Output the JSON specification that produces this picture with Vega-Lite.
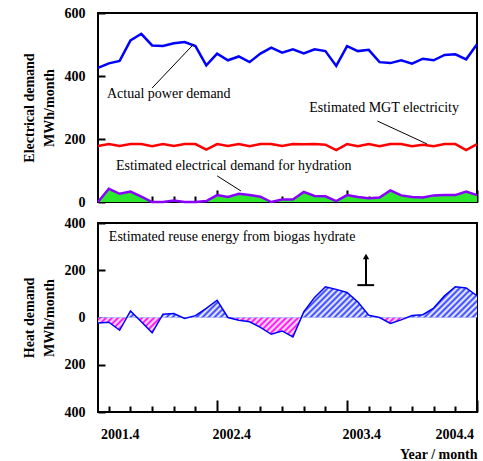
{
  "$schema": "https://vega.github.io/schema/vega-lite/v6.json",
  "background": "white",
  "padding": {"left": 21, "top": 5, "right": 5, "bottom": 3},
  "spacing": 5,
  "config": {
    "view": {"stroke": "black", "strokeWidth": 2},
    "font": "Liberation Serif",
    "axis": {
      "labelFont": "Liberation Serif", "labelFontWeight": "bold", "labelFontSize": 14, "labelColor": "black",
      "titleFont": "Liberation Serif", "titleFontWeight": "bold", "titleFontSize": 14, "titleColor": "black",
      "ticks": false, "domain": false, "grid": true, "gridColor": "black", "gridWidth": 2, "gridOpacity": 1,
      "zindex": 1,
      "labelOverlap": false, "labelFlush": false, "labelBound": false
    },
    "text": {"font": "Liberation Serif", "fontSize": 14, "color": "black"}
  },
  "datasets": {
    "main": [
      {"i": 0, "actual": 426, "mgt": 178, "hydr": 0, "heat": -23},
      {"i": 1, "actual": 440, "mgt": 184, "hydr": 42, "heat": -20},
      {"i": 2, "actual": 448, "mgt": 178, "hydr": 26, "heat": -54},
      {"i": 3, "actual": 513, "mgt": 184, "hydr": 33, "heat": 28},
      {"i": 4, "actual": 534, "mgt": 184, "hydr": 17, "heat": -18},
      {"i": 5, "actual": 497, "mgt": 177, "hydr": 0, "heat": -65},
      {"i": 6, "actual": 495, "mgt": 184, "hydr": 0, "heat": 14},
      {"i": 7, "actual": 504, "mgt": 178, "hydr": 5, "heat": 17},
      {"i": 8, "actual": 508, "mgt": 184, "hydr": 0, "heat": -4},
      {"i": 9, "actual": 495, "mgt": 184, "hydr": 0, "heat": 8},
      {"i": 10, "actual": 434, "mgt": 166, "hydr": 3, "heat": 39},
      {"i": 11, "actual": 471, "mgt": 184, "hydr": 22, "heat": 73},
      {"i": 12, "actual": 450, "mgt": 178, "hydr": 16, "heat": 0},
      {"i": 13, "actual": 462, "mgt": 184, "hydr": 26, "heat": -12},
      {"i": 14, "actual": 444, "mgt": 177, "hydr": 22, "heat": -18},
      {"i": 15, "actual": 471, "mgt": 184, "hydr": 17, "heat": -42},
      {"i": 16, "actual": 490, "mgt": 184, "hydr": 0, "heat": -71},
      {"i": 17, "actual": 474, "mgt": 178, "hydr": 8, "heat": -57},
      {"i": 18, "actual": 485, "mgt": 184, "hydr": 8, "heat": -82},
      {"i": 19, "actual": 472, "mgt": 183, "hydr": 32, "heat": 24},
      {"i": 20, "actual": 485, "mgt": 184, "hydr": 19, "heat": 85},
      {"i": 21, "actual": 479, "mgt": 182, "hydr": 18, "heat": 130},
      {"i": 22, "actual": 432, "mgt": 165, "hydr": 3, "heat": 119},
      {"i": 23, "actual": 495, "mgt": 184, "hydr": 22, "heat": 106},
      {"i": 24, "actual": 479, "mgt": 177, "hydr": 16, "heat": 66},
      {"i": 25, "actual": 483, "mgt": 184, "hydr": 12, "heat": 10},
      {"i": 26, "actual": 444, "mgt": 177, "hydr": 14, "heat": 0},
      {"i": 27, "actual": 441, "mgt": 184, "hydr": 37, "heat": -25},
      {"i": 28, "actual": 450, "mgt": 184, "hydr": 21, "heat": -10},
      {"i": 29, "actual": 439, "mgt": 177, "hydr": 16, "heat": 8},
      {"i": 30, "actual": 455, "mgt": 182, "hydr": 14, "heat": 12},
      {"i": 31, "actual": 450, "mgt": 177, "hydr": 21, "heat": 40},
      {"i": 32, "actual": 467, "mgt": 184, "hydr": 22, "heat": 92},
      {"i": 33, "actual": 469, "mgt": 184, "hydr": 22, "heat": 130},
      {"i": 34, "actual": 453, "mgt": 165, "hydr": 33, "heat": 125},
      {"i": 35, "actual": 501, "mgt": 184, "hydr": 22, "heat": 92}
    ],
    "textTop": [
      {"x": 0.83, "y": 343, "label": "Actual power demand"},
      {"x": 19.5, "y": 298, "label": "Estimated MGT electricity"},
      {"x": 1.66, "y": 114, "label": "Estimated electrical demand for hydration"}
    ],
    "ruleTop": [
      {"x1": 5.0, "y1": 362, "x2": 8.86, "y2": 502},
      {"x1": 25.8, "y1": 257, "x2": 30.4, "y2": 184},
      {"x1": 11.0, "y1": 83, "x2": 13.2, "y2": 35}
    ],
    "textBot": [
      {"x": 1.0, "y": 340, "label": "Estimated reuse energy from biogas hydrate"}
    ],
    "ruleBot": [
      {"x1": 24.75, "y1": 137, "x2": 24.75, "y2": 262},
      {"x1": 23.95, "y1": 137, "x2": 25.5, "y2": 137}
    ],
    "arrowBot": [
      {"x": 24.75, "y": 258}
    ]
  },
  "vconcat": [
    {
      "width": 379,
      "height": 189,
      "data": {"name": "main"},
      "encoding": {
        "x": {
          "field": "i", "type": "quantitative",
          "scale": {"domain": [0, 35], "nice": false, "zero": false},
          "axis": {
            "title": null, "labels": false,
            "values": [1, 3, 5, 7, 9, 11, 13, 15, 17, 19, 21, 23, 25, 27, 29, 31, 33, 35],
            "gridDash": {"condition": {"test": "datum.value == 11 || datum.value == 23 || datum.value == 35", "value": [0, 177, 12, 2000]}, "value": [0, 183, 6, 2000]}
          }
        }
      },
      "layer": [
        {
          "mark": {"type": "area", "fill": "#2ee82e"},
          "encoding": {
            "y": {
              "field": "hydr", "type": "quantitative",
              "scale": {"domain": [0, 600], "nice": false},
              "axis": {
                "title": ["Electrical demand", "MWh/month"],
                "titlePadding": 8,
                "titleLineHeight": 20,
                "values": [0, 50, 100, 150, 200, 250, 300, 350, 400, 450, 500, 550, 600],
                "labelExpr": "datum.value % 100 == 0 ? format(datum.value, 'd') : ''",
                "labelOverlap": false,
                "gridDash": [7, 2000],
                "labelPadding": 13
              }
            },
            "y2": {"datum": 0}
          }
        },
        {
          "mark": {"type": "line", "stroke": "#8a00ff", "strokeWidth": 2.5},
          "encoding": {"y": {"field": "hydr", "type": "quantitative"}}
        },
        {
          "mark": {"type": "line", "stroke": "#ff0000", "strokeWidth": 2.5},
          "encoding": {"y": {"field": "mgt", "type": "quantitative"}}
        },
        {
          "mark": {"type": "line", "stroke": "#0000ff", "strokeWidth": 2.5},
          "encoding": {"y": {"field": "actual", "type": "quantitative"}}
        },
        {
          "data": {"name": "ruleTop"},
          "mark": {"type": "rule", "stroke": "black", "strokeWidth": 1},
          "encoding": {
            "x": {"field": "x1", "type": "quantitative"},
            "y": {"field": "y1", "type": "quantitative"},
            "x2": {"field": "x2"},
            "y2": {"field": "y2"}
          }
        },
        {
          "data": {"name": "textTop"},
          "mark": {"type": "text", "align": "left", "baseline": "middle"},
          "encoding": {
            "x": {"field": "x", "type": "quantitative"},
            "y": {"field": "y", "type": "quantitative"},
            "text": {"field": "label"}
          }
        }
      ]
    },
    {
      "width": 379,
      "height": 189,
      "data": {"name": "main"},
      "encoding": {
        "x": {
          "field": "i", "type": "quantitative",
          "scale": {"domain": [0, 35], "nice": false, "zero": false},
          "axis": {
            "title": "Year / month", "titleAnchor": "end", "titlePadding": 6,
            "values": [1, 2, 3, 5, 7, 9, 11, 12.3, 13, 15, 17, 19, 21, 23, 24.3, 25, 27, 29, 31, 32.9, 33, 35],
            "labelExpr": "datum.value == 2 ? '2001.4' : datum.value == 12.3 ? '2002.4' : datum.value == 24.3 ? '2003.4' : datum.value == 32.9 ? '2004.4' : ''",
            "labelPadding": 15,
            "gridDash": {"condition": [
              {"test": "datum.value == 11 || datum.value == 23 || datum.value == 35", "value": [0, 177, 12, 2000]},
              {"test": "datum.value % 2 == 1", "value": [0, 183, 6, 2000]}
            ], "value": [0, 2000]},
            "gridOpacity": {"condition": {"test": "datum.value % 1 != 0 || datum.value == 2", "value": 0}, "value": 1}
          }
        }
      },
      "layer": [
        {
          "mark": {
            "type": "area",
            "fill": {"gradient": "linear", "x1": 0, "y1": 0, "x2": 0, "y2": 1,
              "stops": [
                {"offset": 0, "color": "#2a3cff"},
                {"offset": 0.6132, "color": "#2a3cff"},
                {"offset": 0.6132, "color": "#ff00ee"},
                {"offset": 1, "color": "#ff00ee"}
              ]}
          },
          "encoding": {
            "y": {
              "field": "heat", "type": "quantitative",
              "scale": {"domain": [-400, 400], "nice": false},
              "axis": {
                "title": ["Heat demand", "MWh/month"],
                "titlePadding": 8,
                "titleLineHeight": 20,
                "values": [-400, -300, -200, -100, 0, 100, 200, 300, 400],
                "labelExpr": "datum.value % 200 == 0 ? format(abs(datum.value), 'd') : ''",
                "labelOverlap": false,
                "gridDash": [7, 2000],
                "labelPadding": 13
              }
            },
            "y2": {"datum": 0}
          }
        },
        {
          "mark": {
            "type": "area",
            "fill": {"gradient": "linear", "x1": 0, "y1": 0, "x2": 1.556, "y2": 0.2054,
              "stops": [
                {"offset":0,"color":"#fff"},{"offset":0.005,"color":"#fff0"},
                {"offset":0.01,"color":"#fff"},{"offset":0.015,"color":"#fff0"},
                {"offset":0.02,"color":"#fff"},{"offset":0.025,"color":"#fff0"},
                {"offset":0.03,"color":"#fff"},{"offset":0.035,"color":"#fff0"},
                {"offset":0.04,"color":"#fff"},{"offset":0.045,"color":"#fff0"},
                {"offset":0.05,"color":"#fff"},{"offset":0.055,"color":"#fff0"},
                {"offset":0.06,"color":"#fff"},{"offset":0.065,"color":"#fff0"},
                {"offset":0.07,"color":"#fff"},{"offset":0.075,"color":"#fff0"},
                {"offset":0.08,"color":"#fff"},{"offset":0.085,"color":"#fff0"},
                {"offset":0.09,"color":"#fff"},{"offset":0.095,"color":"#fff0"},
                {"offset":0.1,"color":"#fff"},{"offset":0.105,"color":"#fff0"},
                {"offset":0.11,"color":"#fff"},{"offset":0.115,"color":"#fff0"},
                {"offset":0.12,"color":"#fff"},{"offset":0.125,"color":"#fff0"},
                {"offset":0.13,"color":"#fff"},{"offset":0.135,"color":"#fff0"},
                {"offset":0.14,"color":"#fff"},{"offset":0.145,"color":"#fff0"},
                {"offset":0.15,"color":"#fff"},{"offset":0.155,"color":"#fff0"},
                {"offset":0.16,"color":"#fff"},{"offset":0.165,"color":"#fff0"},
                {"offset":0.17,"color":"#fff"},{"offset":0.175,"color":"#fff0"},
                {"offset":0.18,"color":"#fff"},{"offset":0.185,"color":"#fff0"},
                {"offset":0.19,"color":"#fff"},{"offset":0.195,"color":"#fff0"},
                {"offset":0.2,"color":"#fff"},{"offset":0.205,"color":"#fff0"},
                {"offset":0.21,"color":"#fff"},{"offset":0.215,"color":"#fff0"},
                {"offset":0.22,"color":"#fff"},{"offset":0.225,"color":"#fff0"},
                {"offset":0.23,"color":"#fff"},{"offset":0.235,"color":"#fff0"},
                {"offset":0.24,"color":"#fff"},{"offset":0.245,"color":"#fff0"},
                {"offset":0.25,"color":"#fff"},{"offset":0.255,"color":"#fff0"},
                {"offset":0.26,"color":"#fff"},{"offset":0.265,"color":"#fff0"},
                {"offset":0.27,"color":"#fff"},{"offset":0.275,"color":"#fff0"},
                {"offset":0.28,"color":"#fff"},{"offset":0.285,"color":"#fff0"},
                {"offset":0.29,"color":"#fff"},{"offset":0.295,"color":"#fff0"},
                {"offset":0.3,"color":"#fff"},{"offset":0.305,"color":"#fff0"},
                {"offset":0.31,"color":"#fff"},{"offset":0.315,"color":"#fff0"},
                {"offset":0.32,"color":"#fff"},{"offset":0.325,"color":"#fff0"},
                {"offset":0.33,"color":"#fff"},{"offset":0.335,"color":"#fff0"},
                {"offset":0.34,"color":"#fff"},{"offset":0.345,"color":"#fff0"},
                {"offset":0.35,"color":"#fff"},{"offset":0.355,"color":"#fff0"},
                {"offset":0.36,"color":"#fff"},{"offset":0.365,"color":"#fff0"},
                {"offset":0.37,"color":"#fff"},{"offset":0.375,"color":"#fff0"},
                {"offset":0.38,"color":"#fff"},{"offset":0.385,"color":"#fff0"},
                {"offset":0.39,"color":"#fff"},{"offset":0.395,"color":"#fff0"},
                {"offset":0.4,"color":"#fff"},{"offset":0.405,"color":"#fff0"},
                {"offset":0.41,"color":"#fff"},{"offset":0.415,"color":"#fff0"},
                {"offset":0.42,"color":"#fff"},{"offset":0.425,"color":"#fff0"},
                {"offset":0.43,"color":"#fff"},{"offset":0.435,"color":"#fff0"},
                {"offset":0.44,"color":"#fff"},{"offset":0.445,"color":"#fff0"},
                {"offset":0.45,"color":"#fff"},{"offset":0.455,"color":"#fff0"},
                {"offset":0.46,"color":"#fff"},{"offset":0.465,"color":"#fff0"},
                {"offset":0.47,"color":"#fff"},{"offset":0.475,"color":"#fff0"},
                {"offset":0.48,"color":"#fff"},{"offset":0.485,"color":"#fff0"},
                {"offset":0.49,"color":"#fff"},{"offset":0.495,"color":"#fff0"},
                {"offset":0.5,"color":"#fff"},{"offset":0.505,"color":"#fff0"},
                {"offset":0.51,"color":"#fff"},{"offset":0.515,"color":"#fff0"},
                {"offset":0.52,"color":"#fff"},{"offset":0.525,"color":"#fff0"},
                {"offset":0.53,"color":"#fff"},{"offset":0.535,"color":"#fff0"},
                {"offset":0.54,"color":"#fff"},{"offset":0.545,"color":"#fff0"},
                {"offset":0.55,"color":"#fff"},{"offset":0.555,"color":"#fff0"},
                {"offset":0.56,"color":"#fff"},{"offset":0.565,"color":"#fff0"},
                {"offset":0.57,"color":"#fff"},{"offset":0.575,"color":"#fff0"},
                {"offset":0.58,"color":"#fff"},{"offset":0.585,"color":"#fff0"},
                {"offset":0.59,"color":"#fff"},{"offset":0.595,"color":"#fff0"},
                {"offset":0.6,"color":"#fff"},{"offset":0.605,"color":"#fff0"},
                {"offset":0.61,"color":"#fff"},{"offset":0.615,"color":"#fff0"},
                {"offset":0.62,"color":"#fff"},{"offset":0.625,"color":"#fff0"},
                {"offset":0.63,"color":"#fff"},{"offset":0.635,"color":"#fff0"},
                {"offset":0.64,"color":"#fff"},{"offset":0.645,"color":"#fff0"},
                {"offset":0.65,"color":"#fff"},{"offset":0.655,"color":"#fff0"},
                {"offset":0.66,"color":"#fff"},{"offset":0.665,"color":"#fff0"},
                {"offset":0.67,"color":"#fff"},{"offset":0.675,"color":"#fff0"},
                {"offset":0.68,"color":"#fff"},{"offset":0.685,"color":"#fff0"},
                {"offset":0.69,"color":"#fff"},{"offset":0.695,"color":"#fff0"}
              ]}
          },
          "encoding": {
            "y": {"field": "heat", "type": "quantitative"},
            "y2": {"datum": 0}
          }
        },
        {
          "mark": {"type": "rule", "stroke": "#cc0000", "strokeWidth": 2},
          "encoding": {"y": {"datum": 0}}
        },
        {
          "mark": {"type": "line", "stroke": "#0000ff", "strokeWidth": 1.5},
          "encoding": {"y": {"field": "heat", "type": "quantitative"}}
        },
        {
          "data": {"name": "ruleBot"},
          "mark": {"type": "rule", "stroke": "black", "strokeWidth": 2},
          "encoding": {
            "x": {"field": "x1", "type": "quantitative"},
            "y": {"field": "y1", "type": "quantitative"},
            "x2": {"field": "x2"},
            "y2": {"field": "y2"}
          }
        },
        {
          "data": {"name": "arrowBot"},
          "mark": {"type": "point", "shape": "triangle-up", "filled": true, "color": "black", "size": 40, "opacity": 1},
          "encoding": {
            "x": {"field": "x", "type": "quantitative"},
            "y": {"field": "y", "type": "quantitative"}
          }
        },
        {
          "data": {"name": "textBot"},
          "mark": {"type": "text", "align": "left", "baseline": "middle"},
          "encoding": {
            "x": {"field": "x", "type": "quantitative"},
            "y": {"field": "y", "type": "quantitative"},
            "text": {"field": "label"}
          }
        }
      ]
    }
  ]
}
